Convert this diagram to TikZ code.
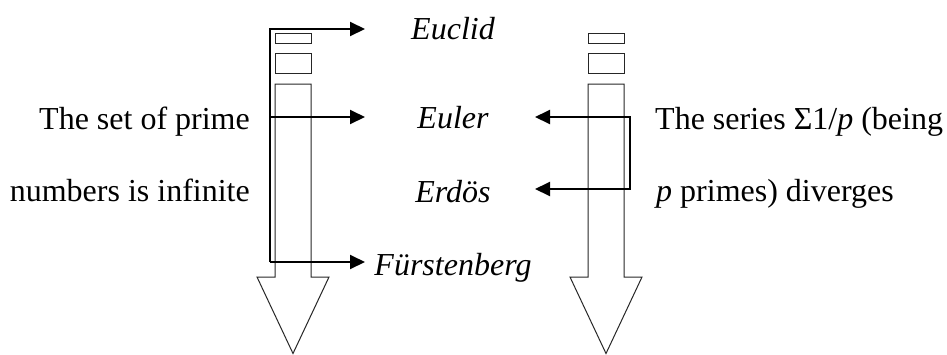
\documentclass[tikz,border=0pt]{standalone}
\usepackage{fontspec}
\setmainfont{Liberation Serif}
\usetikzlibrary{arrows.meta}
\begin{document}
\begin{tikzpicture}[x=1pt,y=-1pt,
  conn/.style={line width=2pt},
  tipstyle/.style={-{Triangle[length=15pt,width=14pt]}},
  shapeline/.style={line width=1pt, draw=black!85},
  lbl/.style={font=\fontsize{32}{38}\selectfont, inner sep=0pt},
  person/.style={font=\fontsize{32}{38}\selectfont\itshape, inner sep=0pt}]
\useasboundingbox (0,0) rectangle (947,354);

% timeline arrows (left and right)
\foreach \cx/\nm in {293/L, 606/R} {
  \draw[shapeline] (\cx-18,33) rectangle (\cx+18,43);
  \draw[shapeline] (\cx-18,53) rectangle (\cx+18,73);
  \draw[shapeline,line join=miter] (\cx-18,84) -- (\cx+18,84) -- (\cx+18,277) -- (\cx+36,277)
     -- (\cx,353.5) -- (\cx-36,277) -- (\cx-18,277) -- cycle;
}

% names
\node[person, anchor=base] (euclid) at (453,39) {Euclid};
\node[person, anchor=base] (euler) at (453,128) {Euler};
\node[person, anchor=base] (erdos) at (453,202) {Erdös};
\node[person, anchor=base] (furst) at (453,275) {Fürstenberg};

% statements
\node[lbl, anchor=base east] (l1) at (250,129) {The set of prime};
\node[lbl, anchor=base east] (l2) at (250,201) {numbers is infinite};
\node[lbl, anchor=base west] (r1) at (655,129) {The series Σ1/\textit{p} (being};
\node[lbl, anchor=base west] (r2) at (656,201) {\textit{p} primes) diverges};

% left bracket
\coordinate (LT) at (270,29);
\coordinate (LM) at (270,117);
\coordinate (LB) at (270,262);
\coordinate (tEuclid) at (365,29);
\coordinate (tEuler) at (365,117);
\coordinate (tFurst) at (365,262);
\draw[conn,tipstyle] (LB) -- (LT) -- (tEuclid);
\draw[conn,tipstyle] (LM) -- (tEuler);
\draw[conn,tipstyle] (LB) -- (tFurst);

% right bracket
\coordinate (RT) at (630,117);
\coordinate (RB) at (630,189);
\coordinate (tEuler2) at (535,117);
\coordinate (tErdos) at (535,189);
\draw[conn,{Triangle[length=15pt,width=14pt]}-{Triangle[length=15pt,width=14pt]}] (tEuler2) -- (RT) -- (RB) -- (tErdos);
\end{tikzpicture}
\end{document}
